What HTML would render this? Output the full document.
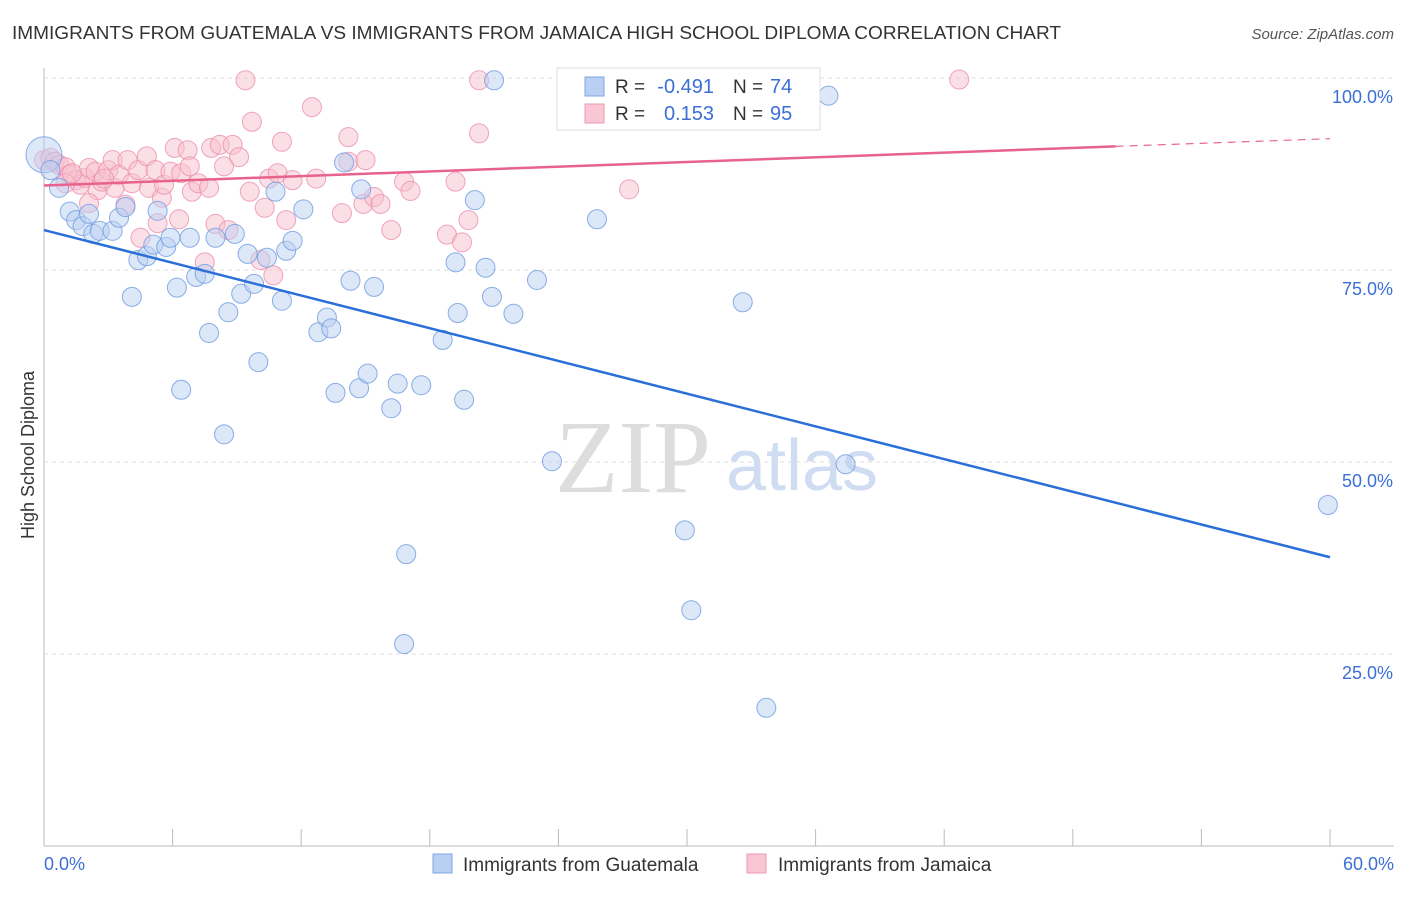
<!DOCTYPE html>
<html><head><meta charset="utf-8"><style>
body{margin:0;background:#fff;font-family:"Liberation Sans",sans-serif}
</style></head><body>
<svg id="chart" width="1406" height="892" xmlns="http://www.w3.org/2000/svg">
<text x="12" y="39" font-size="18" fill="#333" textLength="1049" lengthAdjust="spacingAndGlyphs">IMMIGRANTS FROM GUATEMALA VS IMMIGRANTS FROM JAMAICA HIGH SCHOOL DIPLOMA CORRELATION CHART</text>
<text x="1394" y="39" font-size="15" fill="#555" font-style="italic" text-anchor="end">Source: ZipAtlas.com</text>
<text x="633" y="492" font-size="104" fill="#ddd" font-family="Liberation Serif,serif" text-anchor="middle">ZIP</text>
<text x="802" y="490" font-size="72" fill="#cfdcf2" text-anchor="middle">atlas</text>
<text transform="translate(34,455) rotate(-90)" font-size="18" fill="#333" text-anchor="middle">High School Diploma</text>
<g id="grid"></g><g id="pts"></g><g id="lines"></g>
<g>
<rect x="557" y="68" width="263" height="62" fill="#fff" stroke="#ddd"/>
<rect x="585" y="77" width="19" height="19" fill="#b9d0f2" stroke="#7fa6e6"/>
<rect x="585" y="104" width="19" height="19" fill="#f8c6d4" stroke="#ee9ab3"/>
<text x="615" y="93" font-size="19" fill="#333">R =</text>
<text x="714" y="93" font-size="20" fill="#3b6fd6" text-anchor="end">-0.491</text>
<text x="733" y="93" font-size="19" fill="#333">N =</text>
<text x="770" y="93" font-size="20" fill="#3b6fd6">74</text>
<text x="615" y="120" font-size="19" fill="#333">R =</text>
<text x="714" y="120" font-size="20" fill="#3b6fd6" text-anchor="end">0.153</text>
<text x="733" y="120" font-size="19" fill="#333">N =</text>
<text x="770" y="120" font-size="20" fill="#3b6fd6">95</text>
</g>
<g>
<rect x="433" y="854" width="19" height="19" fill="#b9d0f2" stroke="#7fa6e6"/>
<text x="463" y="871" font-size="19" fill="#333">Immigrants from Guatemala</text>
<rect x="747" y="854" width="19" height="19" fill="#f8c6d4" stroke="#ee9ab3"/>
<text x="778" y="871" font-size="19" fill="#333">Immigrants from Jamaica</text>
</g>
</svg>
<script>
const blueX=[0.7,1.2,1.5,1.8,2.1,2.3,2.6,3.2,3.5,3.8,4.1,4.4,4.8,5.1,5.3,5.7,5.9,6.2,6.4,6.8,7.1,7.5,7.7,8.0,8.4,8.6,8.9,9.2,9.5,9.8,10.0,10.4,10.8,11.1,11.3,11.6,12.1,12.8,13.2,13.4,13.6,14.0,14.3,14.7,14.8,15.1,15.4,16.2,16.5,16.9,16.8,17.6,18.6,19.2,19.3,19.6,20.1,20.6,20.9,21.0,21.9,23.0,23.7,25.8,29.9,30.2,32.6,33.7,36.6,37.4,59.9,0.0,0.3];
const blueY=[85.7,82.6,81.5,80.7,82.3,79.7,80.1,80.1,81.8,83.2,71.5,76.3,76.8,78.3,82.7,78.0,79.2,72.7,59.4,79.2,74.1,74.5,66.8,79.2,53.6,69.5,79.7,71.9,77.1,73.2,63.0,76.6,85.2,71.0,77.5,78.8,82.9,66.9,68.8,67.4,59.0,89.0,73.6,59.6,85.5,61.5,72.8,57.0,60.2,38.0,26.3,60.0,65.9,76.0,69.4,58.1,84.1,75.3,71.5,99.7,69.3,73.7,50.1,81.6,41.1,30.7,70.8,18.0,97.7,49.7,44.4,90.0,88.0];
const pinkX=[0.0,0.3,0.5,0.7,1.0,1.2,1.5,1.7,1.9,2.1,2.4,2.5,2.7,3.0,3.2,3.3,3.5,3.8,3.9,4.1,4.4,4.5,4.8,4.9,5.2,5.3,5.5,5.6,5.9,6.1,6.3,6.4,6.7,6.8,6.9,7.2,7.5,7.7,7.8,8.0,8.2,8.4,8.6,8.8,9.1,9.4,9.6,9.7,10.1,10.3,10.5,10.7,10.9,11.1,11.3,11.6,12.5,12.7,13.9,14.2,14.2,14.9,15.0,15.4,15.7,16.2,16.8,17.1,18.8,19.2,19.5,19.8,20.3,20.3,27.3,42.7,1.0,1.3,2.1,2.8];
const pinkY=[89.3,89.6,89.1,88.7,88.4,87.4,86.7,86.1,87.0,88.3,87.8,85.4,86.5,88.0,89.3,85.7,87.4,83.5,89.3,86.3,88.0,79.2,89.8,85.7,88.0,81.1,84.4,86.1,87.8,90.9,81.6,87.6,90.6,88.5,85.2,86.3,76.0,85.7,90.9,81.0,91.3,88.5,80.2,91.3,89.7,99.7,85.2,94.3,76.3,83.1,86.9,74.3,87.6,91.7,81.5,86.7,96.2,86.9,82.4,92.3,89.1,83.6,89.3,84.5,83.6,80.2,86.5,85.3,79.6,86.5,78.6,81.5,99.7,92.8,85.5,99.8,86.3,87.6,83.7,86.9];
const xTicks=[0,6,12,18,24,30,36,42,48,54,60];
const yTicks=[25,50,75,100];
const blueTrend=[0,80.2,60,37.6];
const pinkTrend=[0,86.0,50,91.1,60,92.1];
const X=v=>44+v/60*1286, Y=v=>846-v/100*768;
const NS="http://www.w3.org/2000/svg";
function mk(t,a,p){const e=document.createElementNS(NS,t);for(const k in a)e.setAttribute(k,a[k]);p.appendChild(e);return e;}
const grid=document.getElementById('grid'),pts=document.getElementById('pts'),lines=document.getElementById('lines');
mk('line',{x1:44,y1:68,x2:44,y2:846,stroke:'#bbb'},grid);
mk('line',{x1:44,y1:846,x2:1394,y2:846,stroke:'#bbb'},grid);
yTicks.forEach(t=>{
 const l=mk('line',{x1:44,y1:Y(t),x2:1394,y2:Y(t),stroke:'#ddd','stroke-dasharray':'4,4'},grid);
 
 
 const tx=mk('text',{x:1393,y:Y(t)+25,'font-size':18,fill:'#3b6fd6','text-anchor':'end'},grid);
 tx.textContent=t.toFixed(1)+'%';
 
 
});
xTicks.forEach(t=>{
 const l=mk('line',{x1:X(t),y1:846,x2:X(t),y2:829,stroke:'#bbb'},grid);
 
 
});
[[0,'0.0%','start',44],[60,'60.0%','end',1394]].forEach(([v,s,a,x])=>{
 const tx=mk('text',{x:x,y:870,'font-size':18,fill:'#3b6fd6','text-anchor':a},grid);
 tx.textContent=s;
 
 
});
function dots(xs,ys,fill,stroke,name){
 xs.forEach((v,i)=>{
  const big=(v===0&&i===xs.length-2&&name==='guatemala-point');
  const c=mk('circle',{cx:X(v),cy:Y(ys[i]),r:big?18:9.5,fill:fill,'fill-opacity':0.5,stroke:stroke,'stroke-opacity':0.8},pts);
  
  
 });
}
dots(pinkX,pinkY,'#f8c0d0','#ec8fab','jamaica-point');
dots(blueX,blueY,'#b9d0f2','#6f9be0','guatemala-point');
const bl=mk('line',{x1:X(blueTrend[0]),y1:Y(blueTrend[1]),x2:X(blueTrend[2]),y2:Y(blueTrend[3]),stroke:'#2a6fd8','stroke-width':2.5},lines);


const pl=mk('line',{x1:X(pinkTrend[0]),y1:Y(pinkTrend[1]),x2:X(pinkTrend[2]),y2:Y(pinkTrend[3]),stroke:'#e8628e','stroke-width':2.5},lines);


const pd=mk('line',{x1:X(pinkTrend[2]),y1:Y(pinkTrend[3]),x2:X(pinkTrend[4]),y2:Y(pinkTrend[5]),stroke:'#e8628e','stroke-width':1.2,'stroke-dasharray':'8,6'},lines);


</script>
</body></html>
